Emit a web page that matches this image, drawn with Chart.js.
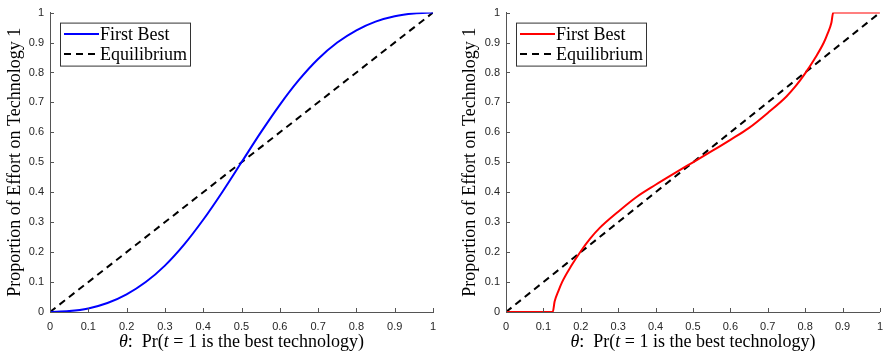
<!DOCTYPE html>
<html>
<head>
<meta charset="utf-8">
<script src="https://cdn.jsdelivr.net/npm/chart.js@4.4.1/dist/chart.umd.min.js"></script>
<style>
  body { margin: 0; background: #fff; }
  .panel { position: absolute; top: 0; height: 354px; }
  #leftBox { left: 0; width: 445px; }
  #rightBox { left: 450px; width: 441px; }
</style>
</head>
<body>
<div class="panel" id="leftBox"><canvas id="chartLeft"></canvas></div>
<div class="panel" id="rightBox"><canvas id="chartRight"></canvas></div>
<script>
// valores
const thetaLeft = [0, 0.05, 0.1, 0.15, 0.2, 0.25, 0.3, 0.35, 0.4, 0.45, 0.5,
                   0.55, 0.6, 0.65, 0.7, 0.75, 0.8, 0.85, 0.9, 0.95, 1];
const firstBestLeft = [0, 0.003, 0.012, 0.03, 0.059, 0.1, 0.155, 0.225, 0.308, 0.401, 0.5,
                       0.599, 0.692, 0.775, 0.845, 0.9, 0.941, 0.97, 0.988, 0.997, 1];

const thetaRight = [0, 0.125, 0.13, 0.14, 0.15, 0.175, 0.2, 0.225, 0.25, 0.3, 0.35, 0.4, 0.45, 0.5,
                    0.55, 0.6, 0.65, 0.7, 0.75, 0.775, 0.8, 0.825, 0.85, 0.86, 0.87, 0.875, 1];
const firstBestRight = [0, 0, 0.035, 0.07, 0.1, 0.155, 0.203, 0.245, 0.28, 0.335, 0.385, 0.425, 0.463, 0.5,
                        0.537, 0.575, 0.615, 0.665, 0.72, 0.755, 0.797, 0.845, 0.9, 0.93, 0.965, 1, 1];

const equilibriumTheta = [0, 1];
const equilibriumValues = [0, 1];

const tickValues = [0, 0.1, 0.2, 0.3, 0.4, 0.5, 0.6, 0.7, 0.8, 0.9, 1];
const tickLabels = ['0', '0.1', '0.2', '0.3', '0.4', '0.5', '0.6', '0.7', '0.8', '0.9', '1'];

const yTitle = 'Proportion of Effort on Technology 1';
// [texto, cursiva]
const xTitleParts = [['θ', true], [':  Pr(', false], ['t', true], [' = 1 is the best technology)', false]];

const serif = '"Liberation Serif", "DejaVu Serif", serif';
const sans = '"Liberation Sans", Arial, sans-serif';

function puntos(xs, ys) {
  return xs.map((x, i) => ({ x: x, y: ys[i] }));
}

// ejes estilo matlab: ticks hacia adentro, titulos y leyenda
const matlabPlugin = {
  id: 'matlab',
  afterDraw(chart, args, opts) {
    const ctx = chart.ctx;
    const a = chart.chartArea;
    const xs = chart.scales.x, ys = chart.scales.y;
    ctx.save();
    ctx.strokeStyle = '#555';
    ctx.lineWidth = 1;
    ctx.beginPath();
    for (const v of tickValues) {
      const px = Math.round(xs.getPixelForValue(v)) + 0.5;
      ctx.moveTo(px, a.bottom);
      ctx.lineTo(px, a.bottom - 4);
      const py = Math.round(ys.getPixelForValue(v)) + 0.5;
      ctx.moveTo(a.left, py);
      ctx.lineTo(a.left + 4, py);
    }
    ctx.stroke();

    // titulo eje y
    ctx.fillStyle = '#000';
    ctx.font = '18px ' + serif;
    ctx.textAlign = 'center';
    ctx.textBaseline = 'middle';
    ctx.save();
    ctx.translate(opts.yTitleX, (a.top + a.bottom) / 2);
    ctx.rotate(-Math.PI / 2);
    ctx.fillText(yTitle, 0, 0);
    ctx.restore();

    // titulo eje x con cursivas
    let total = 0;
    for (const p of xTitleParts) {
      ctx.font = (p[1] ? 'italic ' : '') + '18px ' + serif;
      total += ctx.measureText(p[0]).width;
    }
    let cx = (a.left + a.right) / 2 - total / 2;
    ctx.textAlign = 'left';
    for (const p of xTitleParts) {
      ctx.font = (p[1] ? 'italic ' : '') + '18px ' + serif;
      ctx.fillText(p[0], cx, 342);
      cx += ctx.measureText(p[0]).width;
    }

    // leyenda
    const lx = a.left + 10, ly = a.top + 10;
    ctx.fillStyle = '#fff';
    ctx.fillRect(lx, ly, 130, 43);
    ctx.strokeStyle = '#333';
    ctx.strokeRect(lx + 0.5, ly + 0.5, 130, 43);
    chart.data.datasets.forEach((ds, i) => {
      const yy = ly + 11.5 + i * 20;
      ctx.strokeStyle = ds.borderColor;
      ctx.lineWidth = ds.borderWidth;
      ctx.setLineDash(ds.borderDash || []);
      ctx.beginPath();
      ctx.moveTo(lx + 4, yy);
      ctx.lineTo(lx + 39, yy);
      ctx.stroke();
      ctx.setLineDash([]);
      ctx.fillStyle = '#000';
      ctx.font = '18px ' + serif;
      ctx.textBaseline = 'middle';
      ctx.fillText(ds.label, lx + 40, yy + 1);
    });
    ctx.restore();
  }
};

function grafico(id, xs, ys, color, yAxisWidth, padRight, yTitleX) {
  const ctx = document.getElementById(id).getContext('2d');
  return new Chart(ctx, {
    type: 'scatter',
    data: {
      datasets: [
        {
          label: 'First Best',
          data: puntos(xs, ys),
          showLine: true,
          borderColor: color,
          borderWidth: 2,
          pointRadius: 0,
          cubicInterpolationMode: 'monotone',
          fill: false
        },
        {
          label: 'Equilibrium',
          data: puntos(equilibriumTheta, equilibriumValues),
          showLine: true,
          borderColor: '#000',
          borderWidth: 2,
          borderDash: [7, 5],
          pointRadius: 0,
          fill: false
        }
      ]
    },
    options: {
      responsive: true,
      maintainAspectRatio: false,
      animation: false,
      layout: { padding: { top: 9, right: padRight, left: 0, bottom: 0 } },
      plugins: {
        legend: { display: false },
        tooltip: { enabled: false },
        matlab: { yTitleX: yTitleX }
      },
      scales: {
        x: {
          type: 'linear',
          min: 0, max: 1,
          afterBuildTicks: s => { s.ticks = tickValues.map(v => ({ value: v })); },
          afterFit: s => { s.height = 42; },
          grid: { drawOnChartArea: false, drawTicks: false },
          border: { display: true, color: '#555', width: 1 },
          ticks: {
            padding: 8,
            color: '#262626',
            font: { family: sans, size: 11 },
            maxRotation: 0,
            autoSkip: false,
            callback: (v, i) => tickLabels[i]
          }
        },
        y: {
          type: 'linear',
          min: 0, max: 1,
          afterBuildTicks: s => { s.ticks = tickValues.map(v => ({ value: v })); },
          afterFit: s => { s.width = yAxisWidth; },
          grid: { drawOnChartArea: false, drawTicks: false },
          border: { display: true, color: '#555', width: 1 },
          ticks: {
            padding: 6,
            color: '#262626',
            font: { family: sans, size: 11 },
            autoSkip: false,
            callback: (v, i) => tickLabels[i]
          }
        }
      }
    },
    plugins: [matlabPlugin]
  });
}

window.addEventListener('DOMContentLoaded', () => {
  grafico('chartLeft', thetaLeft, firstBestLeft, '#0000ff', 50, 12, 15);
  grafico('chartRight', thetaRight, firstBestRight, '#ff0000', 56, 3, 20);
});
</script>
</body>
</html>
